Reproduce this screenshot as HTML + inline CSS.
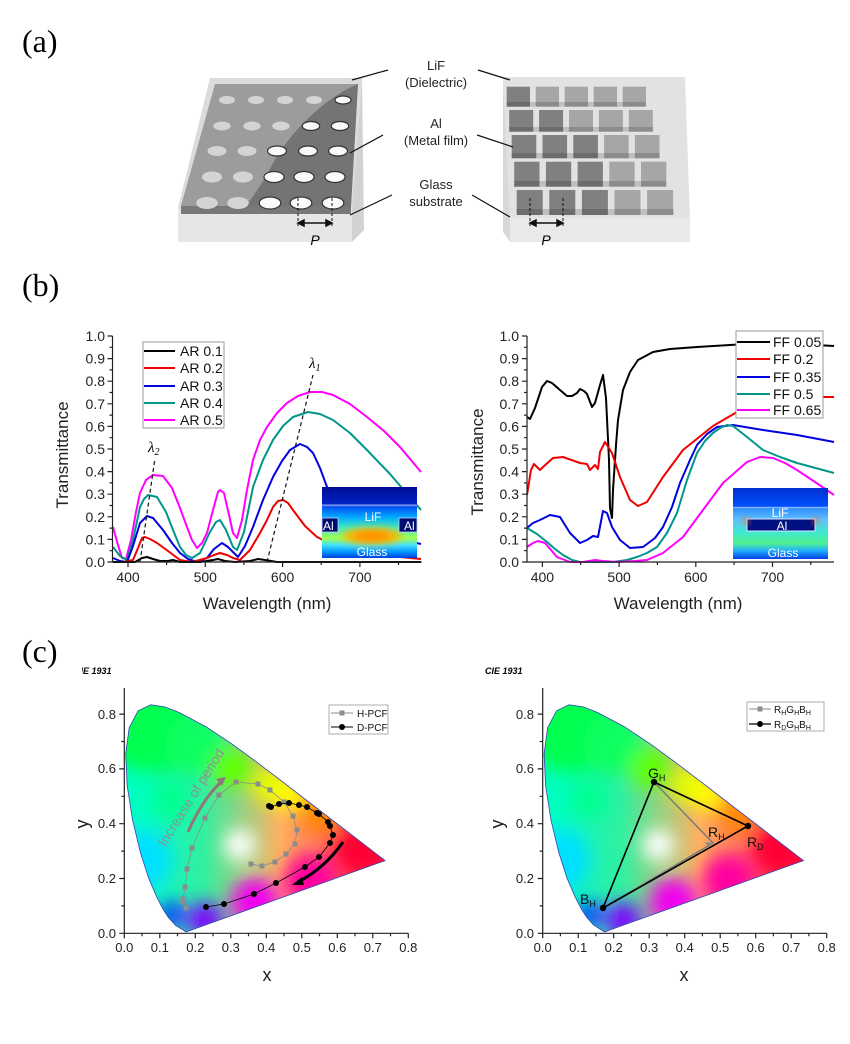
<!DOCTYPE html>
<html><head><meta charset="utf-8"><style>
html,body{margin:0;padding:0;background:#fff}
svg{display:block}
.sans{font-family:"Liberation Sans",Arial,sans-serif}
.serif{font-family:"Liberation Serif","Times New Roman",serif}
</style></head><body>
<svg width="850" height="1044" viewBox="0 0 850 1044" xmlns="http://www.w3.org/2000/svg">
<defs>
<filter id="bl" x="-50%" y="-50%" width="200%" height="200%"><feGaussianBlur stdDeviation="9"/></filter>
<filter id="bl2" x="-50%" y="-50%" width="200%" height="200%"><feGaussianBlur stdDeviation="4"/></filter>
<linearGradient id="cbase" gradientUnits="userSpaceOnUse" x1="125" y1="0" x2="385" y2="0">
 <stop offset="0" stop-color="#00f8d0"/><stop offset="0.3" stop-color="#30f0a0"/>
 <stop offset="0.6" stop-color="#ffb060"/><stop offset="1" stop-color="#ff1040"/>
</linearGradient>
<clipPath id="hs"><path id="hsp" d="M186.1,931.9 L175.4,925.2 L168.4,917.5 L163.2,909.5 L156.7,896.9 L148.7,878.3 L140.4,852.5 L132.6,820.2 L127.2,785.8 L125.7,753.9 L129.2,727.7 L138.1,710.8 L150.7,704.8 L164.8,706.9 L179.2,712.5 L205.8,726.6 L231.4,743.6 L256.8,762.2 L282,781.3 L306.2,800 L328.5,817.1 L346.9,831.2 L369.8,848.8 L385.1,860.6 Z"/></clipPath>
<g id="cie">
 <g clip-path="url(#hs)">
  <rect x="110" y="690" width="290" height="250" fill="url(#cbase)"/>
  <g filter="url(#bl)">
   <circle cx="150" cy="730" r="45" fill="#00ff50"/>
   <circle cx="195" cy="745" r="30" fill="#10ff60"/>
   <circle cx="232" cy="768" r="20" fill="#60ff00"/>
   <circle cx="270" cy="785" r="18" fill="#e0ff00"/>
   <circle cx="290" cy="795" r="16" fill="#ffff00"/>
   <circle cx="320" cy="815" r="18" fill="#ff8a00"/>
   <circle cx="360" cy="850" r="26" fill="#ff0035"/>
   <circle cx="310" cy="880" r="26" fill="#ff00a0"/>
   <circle cx="255" cy="902" r="24" fill="#f000f0"/>
   <circle cx="205" cy="920" r="18" fill="#8000ff"/>
   <circle cx="172" cy="915" r="14" fill="#0040ff"/>
   <circle cx="142" cy="860" r="30" fill="#00e0ff"/>
   <circle cx="135" cy="800" r="26" fill="#00ffc0"/>
   <circle cx="170" cy="800" r="20" fill="#00ff90"/>
   <circle cx="240" cy="845" r="16" fill="#ffffff"/>
  </g>
 </g>
 <use href="#hsp" fill="none" stroke="#3048b0" stroke-width="0.8"/>
</g>
<linearGradient id="ig1" x1="0" y1="0" x2="0" y2="1">
 <stop offset="0" stop-color="#000c90"/><stop offset="0.24" stop-color="#0022c8"/>
 <stop offset="0.26" stop-color="#6080ff"/><stop offset="0.28" stop-color="#0050f0"/>
 <stop offset="0.42" stop-color="#00a8ff"/><stop offset="0.58" stop-color="#40f0c0"/>
 <stop offset="0.72" stop-color="#a0ff50"/><stop offset="0.82" stop-color="#40e0ff"/>
 <stop offset="0.92" stop-color="#0090ff"/><stop offset="1" stop-color="#0040e0"/>
</linearGradient>
<linearGradient id="ig2" x1="0" y1="0" x2="0" y2="1">
 <stop offset="0" stop-color="#0030d0"/><stop offset="0.26" stop-color="#0050ff"/>
 <stop offset="0.27" stop-color="#a0c0ff"/><stop offset="0.29" stop-color="#3090ff"/>
 <stop offset="0.45" stop-color="#60c0ff"/><stop offset="0.62" stop-color="#40e8d0"/>
 <stop offset="0.78" stop-color="#50f090"/><stop offset="0.88" stop-color="#20b0ff"/>
 <stop offset="1" stop-color="#0040e8"/>
</linearGradient>
<clipPath id="ttl"><rect x="82" y="660" width="200" height="20"/></clipPath>
</defs>

<text class="serif" x="22" y="52" font-size="32">(a)</text>
<text class="serif" x="22" y="296" font-size="32">(b)</text>
<text class="serif" x="22" y="662" font-size="32">(c)</text>

<!-- ===== (a) left block ===== -->
<polygon points="210,78 362,78 352,208 178,208" fill="#dcdcdc"/>
<polygon points="178,208 352,208 352,242 178,242" fill="#e6e6e6"/>
<polygon points="352,208 362,78 364,230 352,242" fill="#d2d2d2"/>
<polygon points="215,84 358,84 351,206 181,206" fill="#9c9c9c"/>
<path d="M358,84 C330,95 292,128 272,165 C260,188 250,200 246,206 L351,206 Z" fill="#747474"/>
<polygon points="181,206 351,206 351,214 181,214" fill="#787878"/>
<g fill="#d4d4d4">
<ellipse cx="227" cy="100" rx="8" ry="4"/><ellipse cx="256" cy="100" rx="8" ry="4"/><ellipse cx="285" cy="100" rx="8" ry="4"/><ellipse cx="314" cy="100" rx="8" ry="4"/>
<ellipse cx="222" cy="126" rx="8.7" ry="4.5"/><ellipse cx="252" cy="126" rx="8.7" ry="4.5"/><ellipse cx="281" cy="126" rx="8.7" ry="4.5"/>
<ellipse cx="217" cy="151" rx="9.4" ry="5"/><ellipse cx="247" cy="151" rx="9.4" ry="5"/>
<ellipse cx="212" cy="177" rx="10" ry="5.5"/><ellipse cx="243" cy="177" rx="10" ry="5.5"/>
<ellipse cx="207" cy="203" rx="10.8" ry="6"/><ellipse cx="238" cy="203" rx="10.8" ry="6"/>
</g>
<g fill="#fafafa" stroke="#333" stroke-width="1.2">
<ellipse cx="343" cy="100" rx="8" ry="4"/>
<ellipse cx="311" cy="126" rx="8.7" ry="4.5"/><ellipse cx="340" cy="126" rx="8.7" ry="4.5"/>
<ellipse cx="277" cy="151" rx="9.4" ry="5"/><ellipse cx="308" cy="151" rx="9.4" ry="5"/><ellipse cx="338" cy="151" rx="9.4" ry="5"/>
<ellipse cx="274" cy="177" rx="10" ry="5.5"/><ellipse cx="304" cy="177" rx="10" ry="5.5"/><ellipse cx="335" cy="177" rx="10" ry="5.5"/>
<ellipse cx="270" cy="203" rx="10.8" ry="6"/><ellipse cx="301" cy="203" rx="10.8" ry="6"/><ellipse cx="333" cy="203" rx="10.8" ry="6"/>
</g>

<!-- ===== (a) right block ===== -->
<polygon points="503,77 685,77 690,218 510,218" fill="#e2e2e2"/>
<polygon points="510,218 690,218 690,242 510,242" fill="#e9e9e9"/>
<polygon points="503,77 510,218 510,242 503,232" fill="#d8d8d8"/>
<g fill="#a6a6a6">
<rect x="535.7" y="86.7" width="23.3" height="20"/><rect x="564.7" y="86.7" width="23.3" height="20"/><rect x="593.7" y="86.7" width="23.3" height="20"/><rect x="622.7" y="86.7" width="23.3" height="20"/>
<rect x="569" y="110" width="24" height="21.7"/><rect x="598.9" y="110" width="24" height="21.7"/><rect x="628.8" y="110" width="24" height="21.7"/>
<rect x="604.1" y="135" width="24.6" height="23.3"/><rect x="634.9" y="135" width="24.6" height="23.3"/>
<rect x="609.3" y="161.7" width="25.3" height="25"/><rect x="641" y="161.7" width="25.3" height="25"/>
<rect x="614.5" y="190" width="26" height="25"/><rect x="647.1" y="190" width="26" height="25"/>
</g>
<g fill="#808080">
<rect x="506.7" y="86.7" width="23.3" height="20"/>
<rect x="509.2" y="110" width="24" height="21.7"/><rect x="539.1" y="110" width="24" height="21.7"/>
<rect x="511.7" y="135" width="24.6" height="23.3"/><rect x="542.5" y="135" width="24.6" height="23.3"/><rect x="573.3" y="135" width="24.6" height="23.3"/>
<rect x="514.2" y="161.7" width="25.3" height="25"/><rect x="545.9" y="161.7" width="25.3" height="25"/><rect x="577.6" y="161.7" width="25.3" height="25"/>
<rect x="516.7" y="190" width="26" height="25"/><rect x="549.3" y="190" width="26" height="25"/><rect x="581.9" y="190" width="26" height="25"/>
</g>
<g fill="#000" opacity="0.15">
<rect x="506.7" y="102" width="139" height="4.7"/><rect x="509.2" y="127" width="144" height="4.7"/><rect x="511.7" y="153" width="148" height="5.3"/><rect x="514.2" y="181" width="152" height="5.7"/><rect x="516.7" y="209" width="157" height="6"/>
</g>

<g stroke="#111" stroke-width="1.2">
<line x1="352" y1="80" x2="388" y2="70"/><line x1="478" y1="70" x2="510" y2="80"/>
<line x1="350" y1="153" x2="383" y2="135"/><line x1="477" y1="135" x2="513" y2="147"/>
<line x1="350" y1="215" x2="392" y2="195"/><line x1="472" y1="195" x2="510" y2="217"/>
</g>
<g class="sans" font-size="13" text-anchor="middle" fill="#222">
<text x="436" y="70">LiF</text><text x="436" y="87">(Dielectric)</text>
<text x="436" y="128">Al</text><text x="436" y="145">(Metal film)</text>
<text x="436" y="189">Glass</text><text x="436" y="206">substrate</text>
</g>
<g stroke="#111" stroke-width="1" stroke-dasharray="3,2">
<line x1="298" y1="198" x2="298" y2="226"/><line x1="332" y1="198" x2="332" y2="226"/>
<line x1="530" y1="198" x2="530" y2="226"/><line x1="563" y1="198" x2="563" y2="226"/>
</g>
<g stroke="#111" stroke-width="1.5" fill="#111">
<line x1="302" y1="223" x2="328" y2="223"/><path d="M298,223 l6,-3 v6 z M332,223 l-6,-3 v6 z"/>
<line x1="534" y1="223" x2="559" y2="223"/><path d="M530,223 l6,-3 v6 z M563,223 l-6,-3 v6 z"/>
</g>
<text class="sans" x="315" y="245" font-size="14" font-style="italic" text-anchor="middle">P</text>
<text class="sans" x="546" y="245" font-size="14" font-style="italic" text-anchor="middle">P</text>

<!-- ===== (b) left ===== -->
<g fill="none" stroke-width="2" stroke-linejoin="round">
<polyline stroke="#ff00ff" points="113,527 118,545 122,558 126,559 131,540 136,512 140,493 146,480 153,475 163,476 172,488 180,508 187,527 192,540 197,548 202,543 207,533 213,510 218,492 220,490 224,493 229,515 233,533 237,538 242,520 247,490 253,460 260,440 267,427 277,413 287,403 298,396 310,392 322,392 333,395 350,404 367,417 384,431 400,447 421,472"/>
<polyline stroke="#00968a" points="113,547 120,556 127,560 133,540 140,507 144,499 148,495 157,497 166,512 173,530 180,547 186,555 192,558 200,553 210,532 216,522 220,520 226,530 233,547 237,550 244,532 253,487 263,460 273,440 283,426 293,417 308,412 320,414 333,420 350,433 367,450 390,474 421,510"/>
<polyline stroke="#0000e0" points="113,558 120,561 127,562 133,546 140,523 147,516 153,518 163,530 172,543 180,553 188,559 197,562 207,558 214,549 222,543 228,547 233,552 238,557 245,546 253,527 263,500 273,477 282,461 290,450 300,444 307,447 313,453 320,468 327,487 340,503 350,513 367,527 390,537 421,544"/>
<polyline stroke="#ee0000" points="113,562 123,562 133,560 138,548 142,538 145,537 150,539 157,543 168,551 180,560 192,562 207,558 214,555 220,553 227,555 233,558 240,560 250,550 260,533 267,520 273,507 278,501 283,500 288,503 293,510 305,526 317,537 333,545 350,550 380,555 421,559"/>
<polyline stroke="#000" points="113,562 135,562 142,558 147,557 153,559 160,561 168,561 173,560 180,562 200,562 213,560 218,559 225,561 235,562 250,561 258,559 265,560 277,562 421,562"/>
</g>
<g stroke="#111" stroke-width="1.2" stroke-dasharray="4,3">
<line x1="140" y1="562" x2="155" y2="458"/><line x1="267" y1="562" x2="313" y2="375"/>
</g>
<text class="serif" x="148" y="452" font-size="15" font-style="italic">λ<tspan font-size="10" dy="3">2</tspan></text>
<text class="serif" x="309" y="368" font-size="15" font-style="italic">λ<tspan font-size="10" dy="3">1</tspan></text>
<rect x="322" y="487" width="95" height="71" fill="url(#ig1)"/>
<ellipse cx="372" cy="536" rx="30" ry="8" fill="#ffb000" filter="url(#bl2)"/>
<ellipse cx="372" cy="536" rx="18" ry="4" fill="#ff8800" filter="url(#bl2)"/>
<line x1="322" y1="505" x2="417" y2="505" stroke="#8fa0e0" stroke-width="1"/>
<rect x="322" y="518" width="16" height="14" fill="#000c70" stroke="#c8d0ff" stroke-width="0.8"/>
<rect x="399" y="518" width="18" height="14" fill="#000c70" stroke="#c8d0ff" stroke-width="0.8"/>
<g class="sans" fill="#fff" font-size="12">
<text x="373" y="521" text-anchor="middle">LiF</text><text x="323" y="530">Al</text><text x="404" y="530">Al</text>
<text x="372" y="556" text-anchor="middle">Glass</text></g>
<rect x="143" y="342" width="81" height="86" fill="#fff" stroke="#999" stroke-width="1"/>
<g stroke-width="2">
<line x1="144" y1="351" x2="175" y2="351" stroke="#000"/><line x1="144" y1="368" x2="175" y2="368" stroke="#ee0000"/>
<line x1="144" y1="386" x2="175" y2="386" stroke="#0000e0"/><line x1="144" y1="403" x2="175" y2="403" stroke="#00968a"/>
<line x1="144" y1="420" x2="175" y2="420" stroke="#ff00ff"/></g>
<g class="sans" font-size="14" fill="#111">
<text x="180" y="356">AR 0.1</text><text x="180" y="373">AR 0.2</text><text x="180" y="391">AR 0.3</text><text x="180" y="408">AR 0.4</text><text x="180" y="425">AR 0.5</text></g>
<g stroke="#222" stroke-width="1.2" fill="none">
<path d="M112.5,336 V562 H421.7"/>
<path d="M107.5,562h5M107.5,539.4h5M107.5,516.8h5M107.5,494.2h5M107.5,471.6h5M107.5,449h5M107.5,426.4h5M107.5,403.8h5M107.5,381.2h5M107.5,358.6h5M107.5,336h5M109.5,550.7h3M109.5,528.1h3M109.5,505.5h3M109.5,482.9h3M109.5,460.3h3M109.5,437.7h3M109.5,415.1h3M109.5,392.5h3M109.5,369.9h3M109.5,347.3h3"/>
<path d="M128,562v5M205.3,562v5M282.6,562v5M359.9,562v5M166.6,562v3M243.9,562v3M321.2,562v3M398.5,562v3"/>
</g>
<g class="sans" font-size="14" fill="#222" text-anchor="end">
<text x="105" y="567">0.0</text><text x="105" y="544.4">0.1</text><text x="105" y="521.8">0.2</text><text x="105" y="499.2">0.3</text><text x="105" y="476.6">0.4</text><text x="105" y="454">0.5</text><text x="105" y="431.4">0.6</text><text x="105" y="408.8">0.7</text><text x="105" y="386.2">0.8</text><text x="105" y="363.6">0.9</text><text x="105" y="341">1.0</text></g>
<g class="sans" font-size="14" fill="#222" text-anchor="middle">
<text x="128" y="582">400</text><text x="205.3" y="582">500</text><text x="282.6" y="582">600</text><text x="359.9" y="582">700</text></g>
<text class="sans" x="267" y="609" font-size="17" text-anchor="middle" fill="#222">Wavelength (nm)</text>
<text class="sans" transform="translate(68,455) rotate(-90)" font-size="17" text-anchor="middle" fill="#222">Transmittance</text>

<!-- ===== (b) right ===== -->
<g fill="none" stroke-width="2" stroke-linejoin="round">
<polyline stroke="#000" points="527,417 530,419 535,408 542,387 547,381 552,383 560,390 567,396 572,396 577,393 580,389 584,391 587,394 592,407 595,403 600,385 603,375 606,398 609,460 610,508 612,518 613,490 616,445 618,420 623,390 630,372 638,360 653,352 670,349 697,347 730,345 763,343 797,344 834,346"/>
<polyline stroke="#ee0000" points="527,495 531,470 534,464 540,470 543,467 553,458 563,457 580,463 587,464 590,470 595,465 598,469 600,452 605,442 612,453 620,477 630,500 638,506 647,502 663,477 683,450 713,426 737,412 760,404 790,399 823,397 834,397"/>
<polyline stroke="#0000e0" points="527,528 533,523 540,520 550,515 560,517 570,533 580,543 587,540 593,536 598,537 603,511 607,513 612,527 620,540 630,548 643,547 655,538 663,527 672,507 680,483 690,460 697,445 707,434 717,427 733,425 763,430 797,435 834,442"/>
<polyline stroke="#00968a" points="527,528 537,534 547,542 555,549 563,555 572,560 580,562 600,562 613,562 627,560 637,557 647,553 657,547 667,533 677,513 687,480 697,453 705,441 713,433 720,428 727,425 733,426 747,437 763,450 780,457 797,463 834,473"/>
<polyline stroke="#ff00ff" points="527,547 533,543 538,541 545,543 551,550 557,557 570,562 583,562 595,560 603,561 617,562 635,561 647,560 663,553 683,537 703,510 723,483 747,462 760,457 773,458 785,463 797,470 815,482 834,495"/>
</g>
<rect x="733" y="488" width="95" height="71" fill="url(#ig2)"/>
<rect x="747" y="519" width="68" height="12" fill="#001080" stroke="#e0e8ff" stroke-width="1"/>
<circle cx="746" cy="521" r="3" fill="#ff7000" filter="url(#bl2)"/>
<circle cx="816" cy="521" r="3" fill="#ff7000" filter="url(#bl2)"/>
<g class="sans" fill="#fff" font-size="12" text-anchor="middle">
<text x="780" y="517">LiF</text><text x="782" y="530">Al</text><text x="783" y="557">Glass</text></g>
<rect x="736" y="331" width="87" height="87" fill="#fff" stroke="#999" stroke-width="1"/>
<g stroke-width="2">
<line x1="737" y1="342" x2="770" y2="342" stroke="#000"/><line x1="737" y1="359" x2="770" y2="359" stroke="#ee0000"/>
<line x1="737" y1="377" x2="770" y2="377" stroke="#0000e0"/><line x1="737" y1="394" x2="770" y2="394" stroke="#00968a"/>
<line x1="737" y1="410" x2="770" y2="410" stroke="#ff00ff"/></g>
<g class="sans" font-size="14" fill="#111">
<text x="773" y="347">FF 0.05</text><text x="773" y="364">FF 0.2</text><text x="773" y="382">FF 0.35</text><text x="773" y="399">FF 0.5</text><text x="773" y="415">FF 0.65</text></g>
<g stroke="#222" stroke-width="1.2" fill="none">
<path d="M527,336 V562 H834"/>
<path d="M522,562h5M522,539.4h5M522,516.8h5M522,494.2h5M522,471.6h5M522,449h5M522,426.4h5M522,403.8h5M522,381.2h5M522,358.6h5M522,336h5M524,550.7h3M524,528.1h3M524,505.5h3M524,482.9h3M524,460.3h3M524,437.7h3M524,415.1h3M524,392.5h3M524,369.9h3M524,347.3h3"/>
<path d="M542.4,562v5M619.1,562v5M695.8,562v5M772.5,562v5M580.7,562v3M657.4,562v3M734.1,562v3M810.8,562v3"/>
</g>
<g class="sans" font-size="14" fill="#222" text-anchor="end">
<text x="519" y="567">0.0</text><text x="519" y="544.4">0.1</text><text x="519" y="521.8">0.2</text><text x="519" y="499.2">0.3</text><text x="519" y="476.6">0.4</text><text x="519" y="454">0.5</text><text x="519" y="431.4">0.6</text><text x="519" y="408.8">0.7</text><text x="519" y="386.2">0.8</text><text x="519" y="363.6">0.9</text><text x="519" y="341">1.0</text></g>
<g class="sans" font-size="14" fill="#222" text-anchor="middle">
<text x="542.4" y="582">400</text><text x="619.1" y="582">500</text><text x="695.8" y="582">600</text><text x="772.5" y="582">700</text></g>
<text class="sans" x="678" y="609" font-size="17" text-anchor="middle" fill="#222">Wavelength (nm)</text>
<text class="sans" transform="translate(483,462) rotate(-90)" font-size="17" text-anchor="middle" fill="#222">Transmittance</text>

<!-- ===== (c) left ===== -->
<text class="sans" x="74" y="674" font-size="9" font-weight="bold" font-style="italic" clip-path="url(#ttl)">CIE 1931</text>
<use href="#cie"/>
<polyline fill="none" stroke="#8c8c8c" stroke-width="0.8" points="186,908 183,902 183,899 185,887 187,869 192,848 205,818 219,795 236,782 258,784 270,790 284,802 293,816 297,830 295,844 286,854 275,862 262,866 251,864"/>
<g fill="#8c8c8c">
<rect x="183.5" y="905.5" width="5" height="5"/><rect x="180.5" y="899.5" width="5" height="5"/><rect x="180.5" y="896.5" width="5" height="5"/><rect x="182.5" y="884.5" width="5" height="5"/><rect x="184.5" y="866.5" width="5" height="5"/><rect x="189.5" y="845.5" width="5" height="5"/><rect x="202.5" y="815.5" width="5" height="5"/><rect x="216.5" y="792.5" width="5" height="5"/><rect x="233.5" y="779.5" width="5" height="5"/><rect x="255.5" y="781.5" width="5" height="5"/><rect x="267.5" y="787.5" width="5" height="5"/><rect x="281.5" y="799.5" width="5" height="5"/><rect x="290.5" y="813.5" width="5" height="5"/><rect x="294.5" y="827.5" width="5" height="5"/><rect x="292.5" y="841.5" width="5" height="5"/><rect x="283.5" y="851.5" width="5" height="5"/><rect x="272.5" y="859.5" width="5" height="5"/><rect x="259.5" y="863.5" width="5" height="5"/><rect x="248.5" y="861.5" width="5" height="5"/>
</g>
<polyline fill="none" stroke="#000" stroke-width="0.8" points="206,907 224,904 254,894 276,883 305,867 319,857 330,843 333,835 330,826 328,822 319,814 317,813 307,807 299,805 289,803 279,804 271,807 269,806"/>
<g fill="#000">
<circle cx="206" cy="907" r="3"/><circle cx="224" cy="904" r="3"/><circle cx="254" cy="894" r="3"/><circle cx="276" cy="883" r="3"/><circle cx="305" cy="867" r="3"/><circle cx="319" cy="857" r="3"/><circle cx="330" cy="843" r="3"/><circle cx="333" cy="835" r="3"/><circle cx="330" cy="826" r="3"/><circle cx="328" cy="822" r="3"/><circle cx="319" cy="814" r="3"/><circle cx="317" cy="813" r="3"/><circle cx="307" cy="807" r="3"/><circle cx="299" cy="805" r="3"/><circle cx="289" cy="803" r="3"/><circle cx="279" cy="804" r="3"/><circle cx="271" cy="807" r="3"/><circle cx="269" cy="806" r="3"/>
</g>
<path d="M188,832 Q202,800 221,782" fill="none" stroke="#907878" stroke-width="3"/>
<path d="M226,777 l-10,2 l6,7 z" fill="#907878"/>
<text class="sans" transform="translate(195,800) rotate(-58)" font-size="14" fill="#909090" text-anchor="middle">Increase of period</text>
<path d="M343,842 Q325,868 298,882" fill="none" stroke="#000" stroke-width="3"/>
<path d="M292,885 l10,-8 l2,8 z" fill="#000"/>
<rect x="329" y="705" width="59" height="29" fill="#fff" stroke="#999" stroke-width="0.8"/>
<line x1="331" y1="713" x2="353" y2="713" stroke="#8c8c8c" stroke-width="1"/><rect x="339.5" y="710.5" width="5" height="5" fill="#8c8c8c"/>
<line x1="331" y1="727" x2="353" y2="727" stroke="#000" stroke-width="1"/><circle cx="342" cy="727" r="3" fill="#000"/>
<g class="sans" font-size="10" fill="#111"><text x="357" y="717">H-PCF</text><text x="357" y="731">D-PCF</text></g>
<g stroke="#222" stroke-width="1.2" fill="none">
<path d="M124.3,688 V933.3 H408.3"/>
<path d="M119.3,933.3h5M119.3,878.5h5M119.3,823.7h5M119.3,768.9h5M119.3,714.1h5M121.3,905.9h3M121.3,851.1h3M121.3,796.3h3M121.3,741.5h3"/>
<path d="M124.3,933.3v5M159.8,933.3v5M195.3,933.3v5M230.8,933.3v5M266.3,933.3v5M301.8,933.3v5M337.3,933.3v5M372.8,933.3v5M408.3,933.3v5M142,933.3v3M177.5,933.3v3M213,933.3v3M248.5,933.3v3M284,933.3v3M319.5,933.3v3M355,933.3v3M390.5,933.3v3"/>
</g>
<g class="sans" font-size="13" fill="#222" text-anchor="end">
<text x="116" y="938">0.0</text><text x="116" y="883">0.2</text><text x="116" y="828">0.4</text><text x="116" y="773">0.6</text><text x="116" y="719">0.8</text></g>
<g class="sans" font-size="13" fill="#222" text-anchor="middle">
<text x="124.3" y="952">0.0</text><text x="159.8" y="952">0.1</text><text x="195.3" y="952">0.2</text><text x="230.8" y="952">0.3</text><text x="266.3" y="952">0.4</text><text x="301.8" y="952">0.5</text><text x="337.3" y="952">0.6</text><text x="372.8" y="952">0.7</text><text x="408.3" y="952">0.8</text></g>
<text class="sans" x="267" y="981" font-size="18" text-anchor="middle" fill="#222">x</text>
<text class="sans" transform="translate(88,824) rotate(-90)" font-size="18" text-anchor="middle" fill="#222">y</text>

<!-- ===== (c) right ===== -->
<text class="sans" x="485" y="674" font-size="9" font-weight="bold" font-style="italic">CIE 1931</text>
<use href="#cie" transform="translate(418.4,0)"/>
<polyline fill="none" stroke="#7a7a7a" stroke-width="1.5" points="654,782 713,843 603,908"/>
<path d="M713,843 l-8,-1 l3,5 z" fill="#888"/>
<polygon points="654,782 748,826 603,908" fill="none" stroke="#000" stroke-width="1.6"/>
<g fill="#000"><circle cx="654" cy="782" r="3.2"/><circle cx="748" cy="826" r="3.2"/><circle cx="603" cy="908" r="3.2"/></g>
<g class="sans" font-size="14" fill="#111">
<text x="648" y="778">G<tspan font-size="9" dy="3">H</tspan></text>
<text x="708" y="837">R<tspan font-size="9" dy="3">H</tspan></text>
<text x="747" y="847">R<tspan font-size="9" dy="3">D</tspan></text>
<text x="580" y="904">B<tspan font-size="9" dy="3">H</tspan></text>
</g>
<rect x="747" y="702" width="77" height="29" fill="#fff" stroke="#999" stroke-width="0.8"/>
<line x1="749" y1="709" x2="771" y2="709" stroke="#8c8c8c" stroke-width="1"/><rect x="757.5" y="706.5" width="5" height="5" fill="#8c8c8c"/>
<line x1="749" y1="724" x2="771" y2="724" stroke="#000" stroke-width="1.2"/><circle cx="760" cy="724" r="3" fill="#000"/>
<g class="sans" font-size="10" fill="#111">
<text x="774" y="713">R<tspan font-size="7" dy="2">H</tspan><tspan dy="-2">G</tspan><tspan font-size="7" dy="2">H</tspan><tspan dy="-2">B</tspan><tspan font-size="7" dy="2">H</tspan></text>
<text x="774" y="728">R<tspan font-size="7" dy="2">D</tspan><tspan dy="-2">G</tspan><tspan font-size="7" dy="2">H</tspan><tspan dy="-2">B</tspan><tspan font-size="7" dy="2">H</tspan></text>
</g>
<g stroke="#222" stroke-width="1.2" fill="none">
<path d="M542.7,688 V933.3 H826.7"/>
<path d="M537.7,933.3h5M537.7,878.5h5M537.7,823.7h5M537.7,768.9h5M537.7,714.1h5M539.7,905.9h3M539.7,851.1h3M539.7,796.3h3M539.7,741.5h3"/>
<path d="M542.7,933.3v5M578.2,933.3v5M613.7,933.3v5M649.2,933.3v5M684.7,933.3v5M720.2,933.3v5M755.7,933.3v5M791.2,933.3v5M826.7,933.3v5M560.4,933.3v3M595.9,933.3v3M631.4,933.3v3M666.9,933.3v3M702.4,933.3v3M737.9,933.3v3M773.4,933.3v3M808.9,933.3v3"/>
</g>
<g class="sans" font-size="13" fill="#222" text-anchor="end">
<text x="534" y="938">0.0</text><text x="534" y="883">0.2</text><text x="534" y="828">0.4</text><text x="534" y="773">0.6</text><text x="534" y="719">0.8</text></g>
<g class="sans" font-size="13" fill="#222" text-anchor="middle">
<text x="542.7" y="952">0.0</text><text x="578.2" y="952">0.1</text><text x="613.7" y="952">0.2</text><text x="649.2" y="952">0.3</text><text x="684.7" y="952">0.4</text><text x="720.2" y="952">0.5</text><text x="755.7" y="952">0.6</text><text x="791.2" y="952">0.7</text><text x="826.7" y="952">0.8</text></g>
<text class="sans" x="684" y="981" font-size="18" text-anchor="middle" fill="#222">x</text>
<text class="sans" transform="translate(503,824) rotate(-90)" font-size="18" text-anchor="middle" fill="#222">y</text>
</svg>
</body></html>
